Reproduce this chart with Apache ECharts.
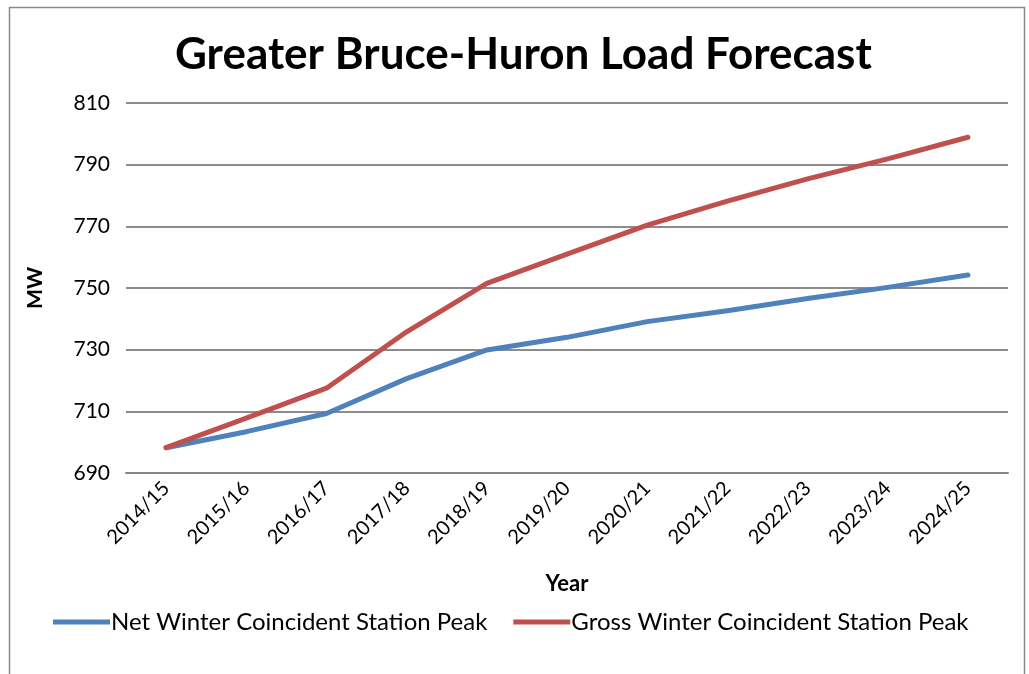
<!DOCTYPE html>
<html>
<head>
<meta charset="utf-8">
<script src="https://cdn.jsdelivr.net/npm/echarts@6/dist/echarts.min.js"></script>
<style>
html,body{margin:0;padding:0;background:#fff;}
#chart{width:1029px;height:674px;}
</style>
</head>
<body>
<div id="chart"></div>
<script>
const categories = ['2014/15','2015/16','2016/17','2017/18','2018/19','2019/20','2020/21','2021/22','2022/23','2023/24','2024/25'];
const netPeak = [698.2, 703.4, 709.3, 720.6, 729.9, 734.0, 739.1, 742.6, 746.6, 750.2, 754.2];
const grossPeak = [698.2, 707.8, 717.5, 735.8, 751.5, 761.0, 770.4, 778.2, 785.4, 791.9, 798.9];
const yTicks = {min: 690, max: 810, interval: 20};
const seriesNames = ['Net Winter Coincident Station Peak', 'Gross Winter Coincident Station Peak'];

const FONT = 'Lato, "Open Sans", sans-serif';
const chart = echarts.init(document.getElementById('chart'), null, {renderer: 'canvas'});
chart.setOption({
  animation: false,
  backgroundColor: '#fff',
  graphic: [{
    type: 'rect', left: 7, top: 5,
    shape: {width: 1015, height: 700},
    style: {fill: 'none', stroke: '#8a8a8a', lineWidth: 1.5},
    silent: true
  }],
  title: {
    text: 'Greater Bruce-Huron Load Forecast',
    left: 170, top: 28,
    textStyle: {fontFamily: FONT, fontWeight: 'bold', fontSize: 44, color: '#000'}
  },
  grid: {left: 126, right: 21, top: 103, bottom: 201, containLabel: false},
  legend: {
    left: 48, top: 605,
    icon: 'rect', itemWidth: 57, itemHeight: 5, itemGap: 26,
    textStyle: {fontFamily: FONT, fontSize: 24, color: '#000', padding: [0,0,0,-4]},
    data: seriesNames
  },
  xAxis: {
    type: 'category',
    data: categories,
    boundaryGap: true,
    name: 'Year',
    nameLocation: 'middle',
    nameGap: 100,
    nameTextStyle: {fontFamily: FONT, fontWeight: 'bold', fontSize: 22, color: '#000'},
    axisLine: {lineStyle: {color: '#868686', width: 2}},
    axisTick: {show: false},
    axisLabel: {rotate: 45, fontFamily: FONT, fontSize: 20, color: '#000', margin: 12, interval: 0}
  },
  yAxis: {
    type: 'value',
    min: yTicks.min, max: yTicks.max, interval: yTicks.interval,
    name: 'MW',
    nameLocation: 'middle',
    nameGap: 80,
    nameRotate: 90,
    nameTextStyle: {fontFamily: FONT, fontWeight: 'bold', fontSize: 21, color: '#000'},
    axisLine: {show: false},
    axisTick: {show: false},
    axisLabel: {fontFamily: FONT, fontSize: 21, color: '#000', margin: 16},
    splitLine: {lineStyle: {color: '#8c8c8c', width: 2}}
  },
  series: [
    {
      name: seriesNames[0], type: 'line', data: netPeak,
      symbol: 'none', lineStyle: {color: '#4F81BD', width: 5, cap: 'round', join: 'round'},
      itemStyle: {color: '#4F81BD'}
    },
    {
      name: seriesNames[1], type: 'line', data: grossPeak,
      symbol: 'none', lineStyle: {color: '#C0504D', width: 5, cap: 'round', join: 'round'},
      itemStyle: {color: '#C0504D'}
    }
  ]
});
</script>
</body>
</html>
